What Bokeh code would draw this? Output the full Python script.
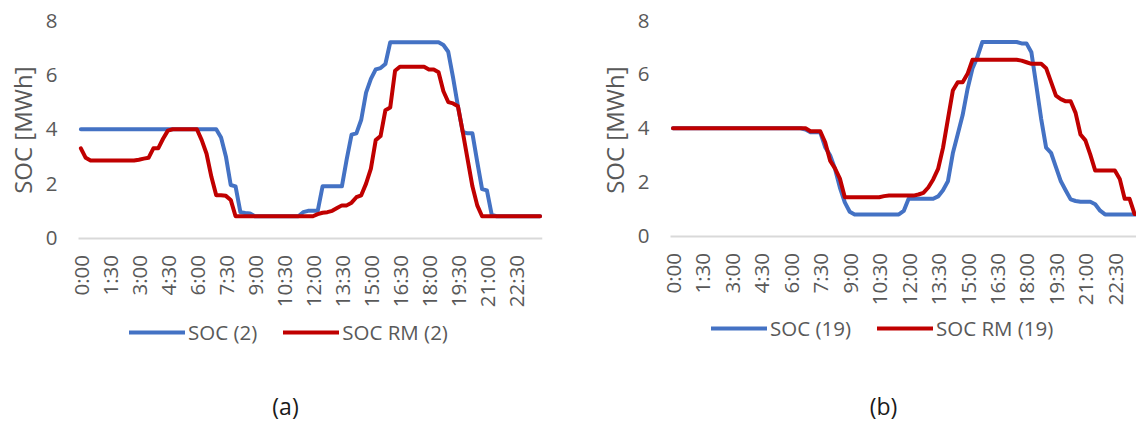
import math
from bokeh.plotting import figure
from bokeh.models import Range1d, FixedTicker, Legend, LegendItem, Label, Title
from bokeh.layouts import row
from bokeh.embed import file_html
from bokeh.resources import INLINE

# ---------------- data ----------------
slots = list(range(96))  # 15-minute slots, 0:00 .. 23:45
tick_positions = [0, 6, 12, 18, 24, 30, 36, 42, 48, 54, 60, 66, 72, 78, 84, 90]
tick_labels = ["0:00", "1:30", "3:00", "4:30", "6:00", "7:30", "9:00", "10:30",
               "12:00", "13:30", "15:00", "16:30", "18:00", "19:30", "21:00", "22:30"]

soc_2 = [4.0] * 29 + [3.7, 3.0, 1.95, 1.9, 0.95, 0.92, 0.9] + [0.8] * 10 + \
    [0.95, 1.0, 1.0, 1.0, 1.9, 1.9, 1.9, 1.9, 1.9, 2.9, 3.8, 3.85, 4.35, 5.35, 5.85, 6.2, 6.25, 6.4] + \
    [7.2] * 11 + [7.1, 6.85, 5.9, 4.85, 3.9, 3.85, 3.85, 2.8, 1.8, 1.75, 0.85] + [0.8] * 10

soc_rm_2 = [3.3, 2.95] + [2.85] * 10 + [2.88, 2.92, 2.95, 3.3, 3.3, 3.65, 3.95] + [4.0] * 6 + \
    [3.6, 3.1, 2.25, 1.57, 1.57, 1.55, 1.4] + [0.8] * 17 + \
    [0.88, 0.93, 0.95, 1.0, 1.1, 1.2, 1.2, 1.3, 1.5, 1.57, 2.0, 2.55, 3.6, 3.75, 4.7, 4.8, 6.15] + \
    [6.3] * 6 + [6.2, 6.2, 6.1, 5.4, 5.0, 4.95, 4.85, 3.9, 2.9, 1.9, 1.2] + [0.8] * 13

soc_19 = [4.0] * 27 + [3.95, 3.85, 3.85, 3.85, 3.3, 3.0, 2.5, 1.8, 1.25, 0.9] + [0.8] * 10 + \
    [0.93] + [1.38] * 6 + [1.47, 1.7, 2.03, 3.07, 3.78, 4.49, 5.46, 6.22, 6.64] + [7.2] * 8 + \
    [7.15, 7.15, 6.82, 5.59, 4.34, 3.28, 3.09, 2.56, 2.03, 1.69, 1.36, 1.3, 1.27, 1.27, 1.27, 1.18, 0.94] + \
    [0.8] * 8

soc_rm_19 = [4.0] * 28 + [3.89, 3.89, 3.89, 3.48, 2.8, 2.51, 2.13] + [1.44] * 8 + [1.48] + [1.5] * 6 + \
    [1.54, 1.6, 1.8, 2.1, 2.49, 3.27, 4.34, 5.4, 5.71, 5.71, 6.02] + [6.54] * 10 + \
    [6.51, 6.45, 6.39, 6.39, 6.39, 6.23, 5.72, 5.21, 5.08, 5.0, 5.0, 4.57, 3.77, 3.55, 3.02] + \
    [2.43] * 5 + [2.12, 1.38, 1.38, 0.82, 0.8]

series_names_a = ["SOC (2)", "SOC RM (2)"]
series_names_b = ["SOC (19)", "SOC RM (19)"]
captions = ["(a)", "(b)"]
y_title = "SOC [MWh]"

BLUE = "#4472C4"
RED = "#C00000"
GREY = "#595959"
FONT = "Open Sans"
H = 422
PAD = 10  # extra frame room on the left so the first rotated tick label is not clipped


def make_panel(soc, socrm, names, caption, width, plot_left, mb_right, step_px, top, zero_y,
               leg_x, leg_y, cap_x, cap_y, title_offset):
    # frame spans from `top` to the bottom of the canvas; 8 sits at `top`, 0 at `zero_y`
    px_per_unit = (zero_y - top) / 8.0
    y_start = 8.0 - (H - top) / px_per_unit
    mb_left = plot_left - PAD
    frame_w = width - mb_left - mb_right
    x_start = -0.5 - PAD / step_px
    x_end = x_start + frame_w / step_px
    p = figure(width=width, height=H, output_backend="svg", toolbar_location=None,
               x_range=Range1d(x_start, x_end), y_range=Range1d(y_start, 8),
               min_border_left=mb_left, min_border_right=mb_right,
               min_border_top=top, min_border_bottom=0)
    p.outline_line_color = None
    p.background_fill_color = "white"
    p.border_fill_color = "white"
    p.xgrid.visible = False
    p.ygrid.visible = False

    r1 = p.line(slots, soc, line_color=BLUE, line_width=4, line_join="round", line_cap="round")
    r2 = p.line(slots, socrm, line_color=RED, line_width=4, line_join="round", line_cap="round")

    xa = p.xaxis[0]
    xa.fixed_location = 0
    xa.bounds = (-0.5, 95.5)
    xa.ticker = FixedTicker(ticks=tick_positions)
    xa.major_label_overrides = {t: l for t, l in zip(tick_positions, tick_labels)}
    xa.major_label_orientation = math.pi / 2
    xa.axis_line_color = "#D9D9D9"
    xa.axis_line_width = 2
    xa.major_tick_line_color = None
    xa.minor_tick_line_color = None
    xa.major_tick_out = 0
    xa.major_tick_in = 0
    xa.major_label_standoff = 17
    xa.major_label_text_font = FONT
    xa.major_label_text_font_size = "20.5px"
    xa.major_label_text_color = GREY

    ya = p.yaxis[0]
    ya.ticker = FixedTicker(ticks=[0, 2, 4, 6, 8])
    ya.axis_line_color = None
    ya.major_tick_line_color = None
    ya.minor_tick_line_color = None
    ya.major_tick_out = 0
    ya.major_tick_in = 0
    ya.major_label_standoff = 21 - PAD
    ya.major_label_text_font = FONT
    ya.major_label_text_font_size = "20.5px"
    ya.major_label_text_color = GREY

    yt = Title(text=y_title, align="right", offset=title_offset, standoff=7,
               text_font=FONT, text_font_size="24px", text_font_style="normal",
               text_color=GREY)
    p.add_layout(yt, "left")

    legend = Legend(items=[LegendItem(label=names[0], renderers=[r1]),
                           LegendItem(label=names[1], renderers=[r2])],
                    orientation="horizontal", location=(leg_x + PAD, leg_y),
                    glyph_width=56, glyph_height=20, label_standoff=3, spacing=26,
                    padding=0, margin=0, border_line_color=None,
                    background_fill_alpha=0,
                    label_text_font=FONT, label_text_font_size="20.5px",
                    label_text_color=GREY)
    p.add_layout(legend, "center")

    cap = Label(x=cap_x + PAD, y=cap_y, x_units="screen", y_units="screen", text=caption,
                text_align="center", text_baseline="middle", text_font=FONT,
                text_font_size="23px", text_color="#1A1A1A")
    p.add_layout(cap)
    return p


pa = make_panel(soc_2, soc_rm_2, series_names_a, captions[0], width=560, plot_left=76, mb_right=18,
                step_px=466 / 96, top=20, zero_y=237.5, leg_x=51, leg_y=76, cap_x=207, cap_y=17,
                title_offset=46)
pb = make_panel(soc_19, soc_rm_19, series_names_b, captions[1], width=576, plot_left=110, mb_right=0,
                step_px=4.91, top=20, zero_y=235.5, leg_x=41, leg_y=80, cap_x=213, cap_y=17,
                title_offset=46)

layout = row(pa, pb)
open("out.html", "w").write(file_html(layout, INLINE))
